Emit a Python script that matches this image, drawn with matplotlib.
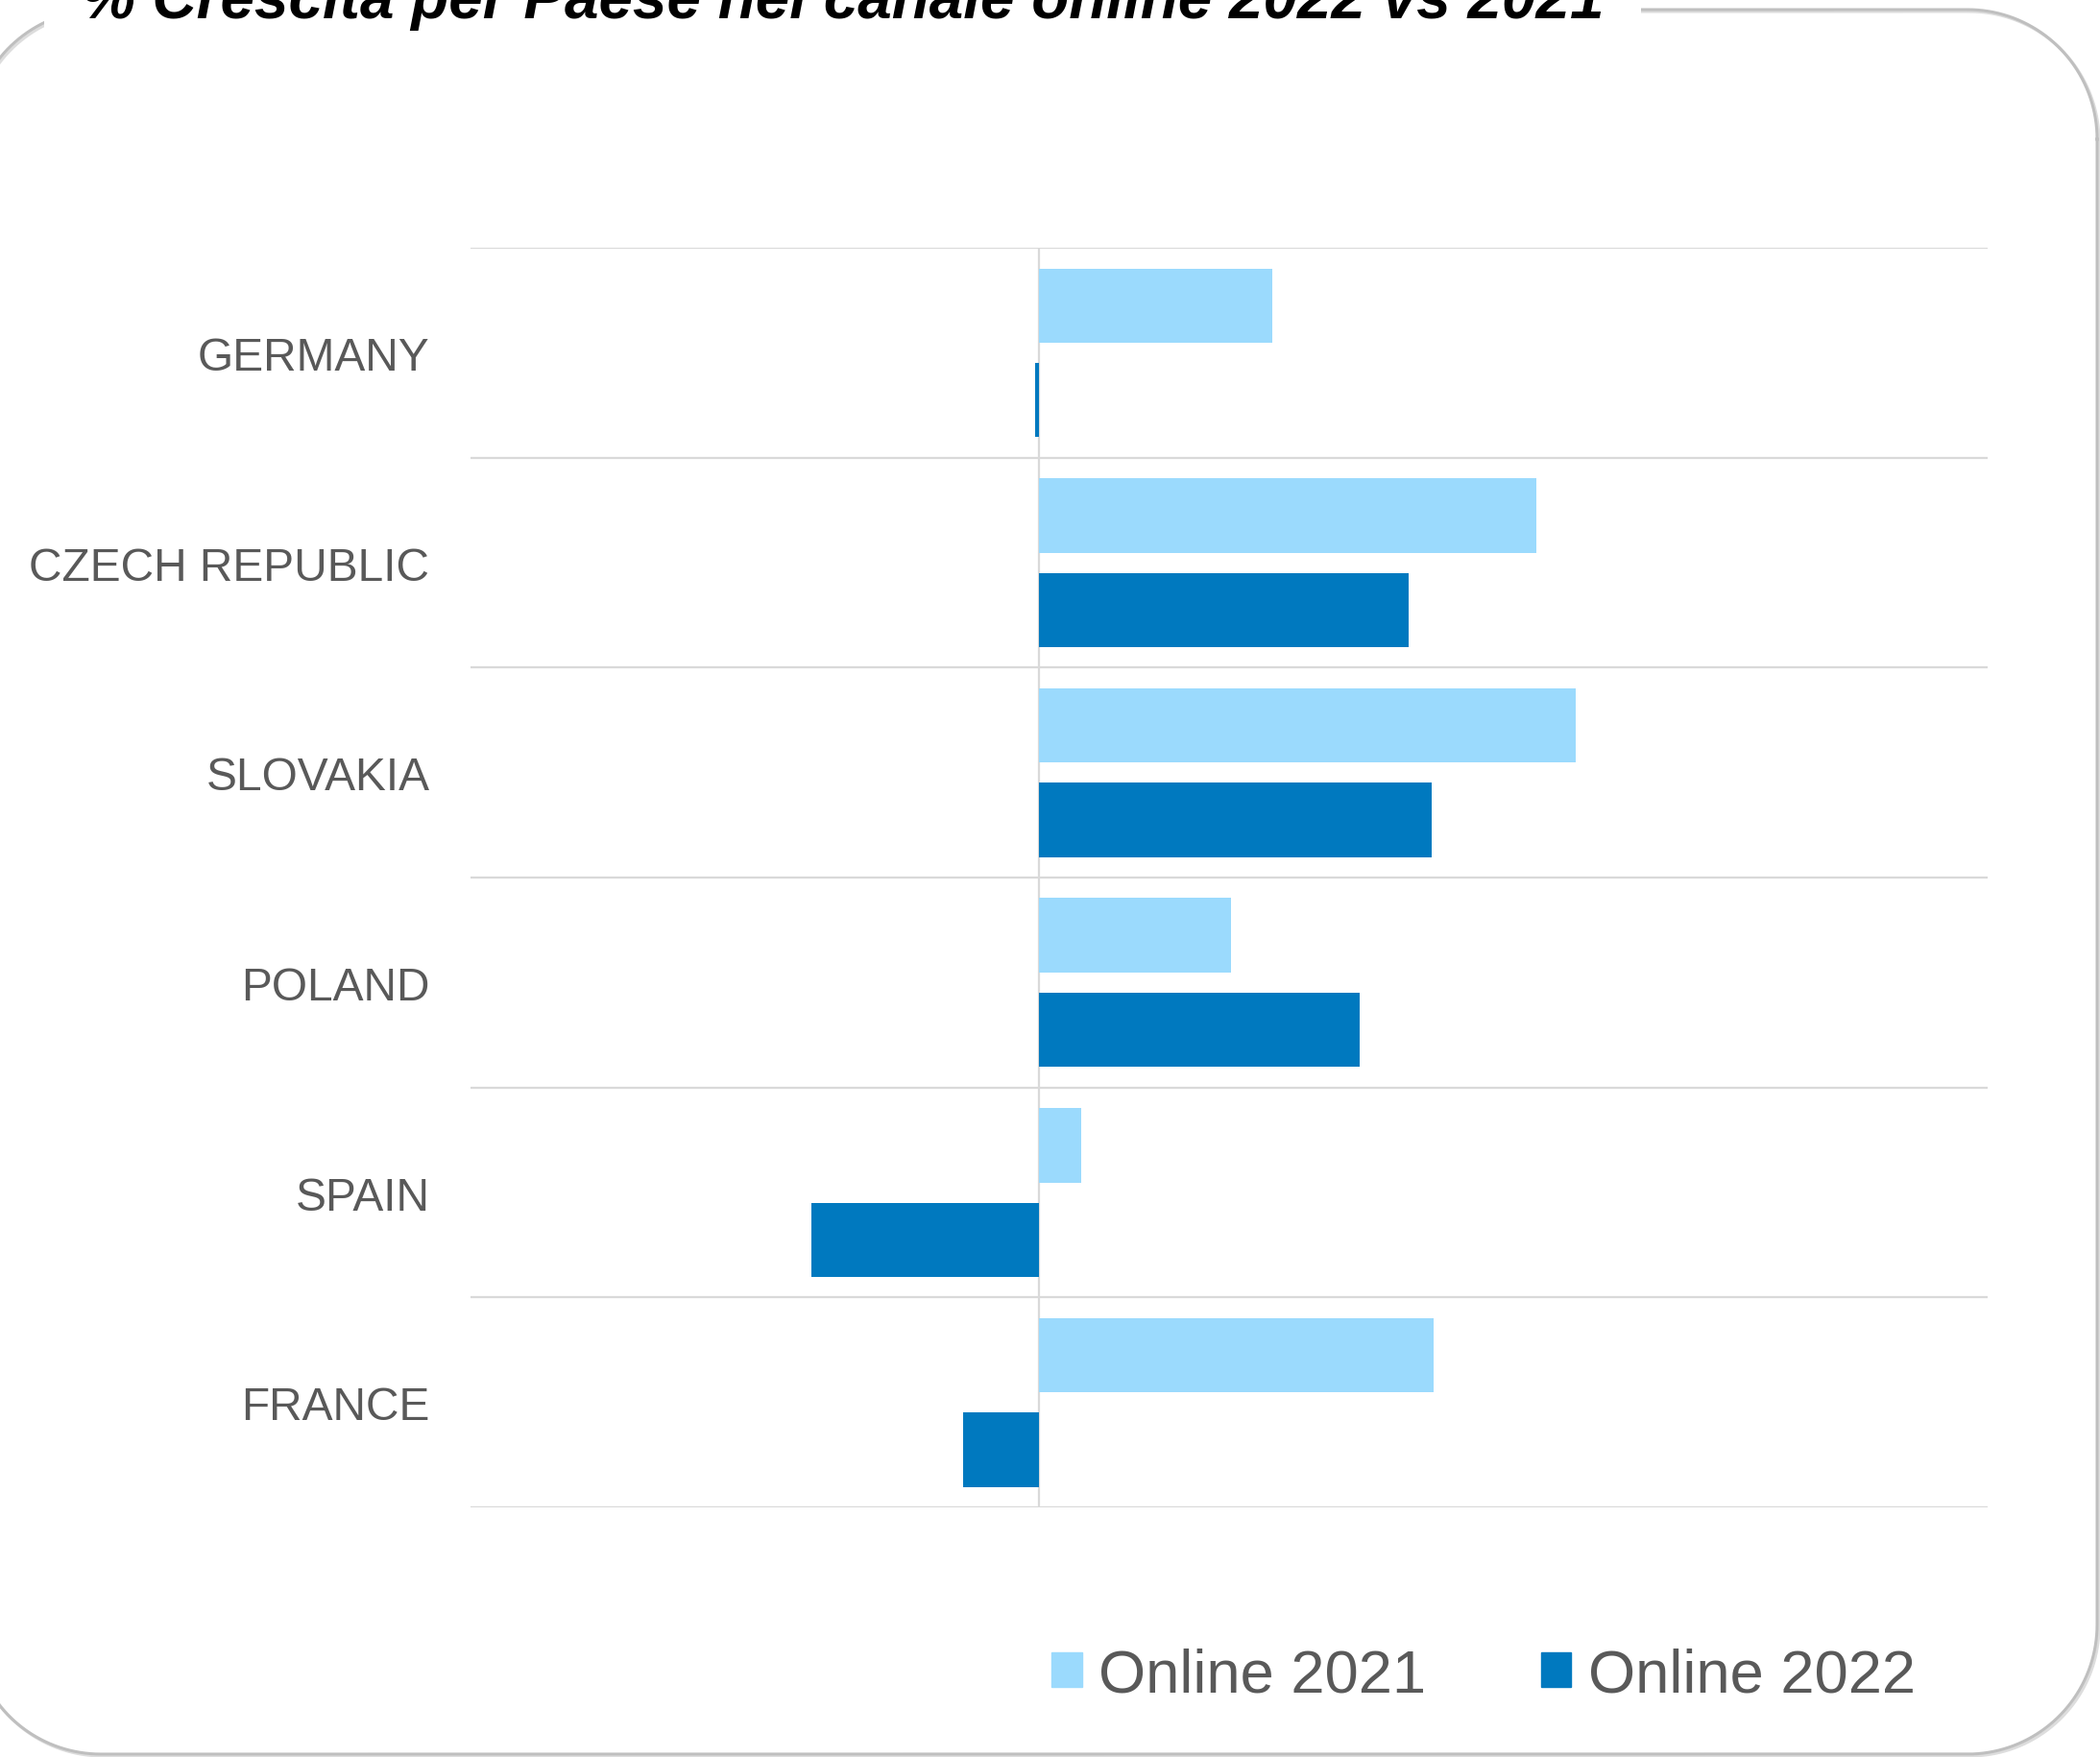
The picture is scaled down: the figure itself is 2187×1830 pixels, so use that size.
import matplotlib
matplotlib.use("Agg")
import numpy as np
import matplotlib.pyplot as plt
import matplotlib.patches as patches
from matplotlib.lines import Line2D
from matplotlib.transforms import IdentityTransform

# ---- data ----
countries = ["GERMANY", "CZECH REPUBLIC", "SLOVAKIA", "POLAND", "SPAIN", "FRANCE"]
online_2021 = [0.123, 0.262, 0.283, 0.101, 0.022, 0.208]
online_2022 = [-0.0024, 0.195, 0.207, 0.169, -0.120, -0.040]
series_labels = ["Online 2021", "Online 2022"]
title = "% Crescita per Paese nel canale online 2022 vs 2021"

# ---- style ----
W, H, DPI = 2187, 1831, 100
light_blue = "#9BDAFD"
dark_blue = "#0079BF"
grid_col = "#D9D9D9"
text_col = "#595959"
border_col = "#BFBFBF"
plt.rcParams["font.family"] = ["Liberation Sans", "DejaVu Sans"]

fig = plt.figure(figsize=(W / DPI, H / DPI), dpi=DPI)
fig.patch.set_facecolor("white")


def rounded_rect(x0, y0, x1, y1, r, n=40):
    # polyline outline of a rounded rectangle (pixel coords)
    xs, ys = [], []
    corners = [(x1 - r, y1 - r, 0), (x0 + r, y1 - r, 90),
               (x0 + r, y0 + r, 180), (x1 - r, y0 + r, 270)]
    for cx, cy, a0 in corners:
        t = np.radians(np.linspace(a0, a0 + 90, n))
        xs.extend(cx + r * np.cos(t))
        ys.extend(cy + r * np.sin(t))
    xs.append(xs[0])
    ys.append(ys[0])
    return xs, ys


# outer frame with a faint shadow
fx, fy = rounded_rect(-30, 3, 2184, 1820, 135)
fig.add_artist(Line2D([v + 2 for v in fx], [v - 2 for v in fy], transform=IdentityTransform(),
                      color="#DDDDDD", linewidth=2.2, zorder=0))
fig.add_artist(Line2D(fx, fy, transform=IdentityTransform(),
                      color=border_col, linewidth=2.2, zorder=0))

ax = fig.add_axes([0.2239, 0.142, 0.9465 - 0.2239, 0.8585 - 0.142])
ax.patch.set_alpha(0)

y = list(range(len(countries)))
h = 0.354
off = 0.225
ax.barh([v - off for v in y], online_2021, height=h, color=light_blue, label=series_labels[0], zorder=3)
ax.barh([v + off for v in y], online_2022, height=h, color=dark_blue, label=series_labels[1], zorder=3)

ax.set_xlim(-0.3, 0.5)
ax.set_ylim(len(countries) - 0.5, -0.5)
for b in range(len(countries) + 1):
    ax.axhline(b - 0.5, color=grid_col, linewidth=1.6, zorder=1)
ax.axvline(0, color=grid_col, linewidth=1.6, zorder=2)

ax.set_yticks(y)
ax.set_yticklabels(countries, fontsize=34.5, color=text_col)
ax.tick_params(axis="y", length=0, pad=30.5)
ax.set_xticks([])
for s in ax.spines.values():
    s.set_visible(False)

# legend
handles = [patches.Patch(color=light_blue), patches.Patch(color=dark_blue)]
leg = fig.legend(handles, series_labels, loc="center left",
                 bbox_to_anchor=(1095 / W, 1 - 1746 / H), ncol=2, frameon=False,
                 fontsize=45.5, handlelength=0.5, handleheight=0.5,
                 handletextpad=0.27, columnspacing=1.9, borderpad=0, borderaxespad=0)
for t in leg.get_texts():
    t.set_color(text_col)

# title, partly cut by the top edge, masking the frame line
fig.text(84 / W, 1 - 19 / H, title, fontsize=46, fontweight="bold", fontstyle="italic",
         color="black", ha="left", va="baseline", zorder=5,
         bbox=dict(boxstyle="square,pad=0.6", facecolor="white", edgecolor="none"))

fig.savefig("out.png", dpi=DPI, facecolor="white")
